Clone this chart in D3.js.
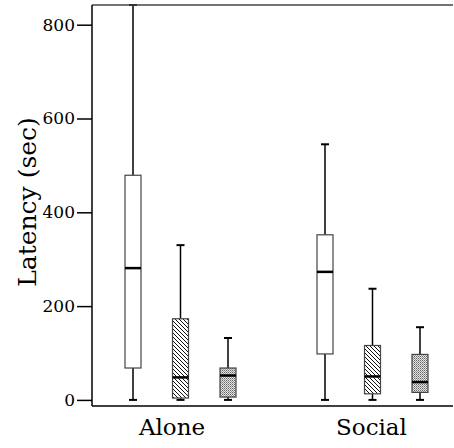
<!DOCTYPE html>
<html>
<head>
<meta charset="utf-8">
<script src="https://cdn.jsdelivr.net/npm/d3@7"></script>
<style>
  body { margin: 0; background: #fff; }
</style>
</head>
<body>
<svg id="chart" width="454" height="448"></svg>
<script>
// categories and series
const groups = ["Alone", "Social"];
const series = ["plain", "hatched", "dotted"];

// box stats per group, in series order (sec)
const mins    = [[0, 0, 0],       [0, 0, 0]];
const q1s     = [[68, 4, 6],      [98, 13, 16]];
const medians = [[281, 48, 52],   [273, 50, 38]];
const q3s     = [[479, 173, 68],  [352, 116, 97]];
const maxs    = [[842, 330, 132], [545, 237, 155]];

const yTicks = [0, 200, 400, 600, 800];

const serif = "DejaVu Serif";

const svg = d3.select("#chart");
const plotLeft = 92, plotRight = 453, plotTop = 5, plotBottom = 406;

const y = d3.scaleLinear().domain([-13, 842]).range([plotBottom, plotTop]);

const x = d3.scalePoint().domain(groups).range([180.5, 372.5]);
const xs = d3.scalePoint().domain(series).range([-47.5, 47.5]);
// category label positions along the bottom
const xLabel = d3.scalePoint().domain(groups).range([172, 371.5]);

const boxW = 16, capW = 8;

// fill patterns
const defs = svg.append("defs");
const hatch = defs.append("pattern")
  .attr("id", "hatch")
  .attr("patternUnits", "userSpaceOnUse")
  .attr("width", 4).attr("height", 4);
hatch.append("rect").attr("width", 4).attr("height", 4).attr("fill", "#fff");
hatch.append("path")
  .attr("d", "M-1,-1 L5,5 M-1,3 L1,5 M3,-1 L5,1")
  .attr("stroke", "#111").attr("stroke-width", 1);

const dots = defs.append("pattern")
  .attr("id", "dots")
  .attr("patternUnits", "userSpaceOnUse")
  .attr("width", 2).attr("height", 2);
dots.append("rect").attr("width", 2).attr("height", 2).attr("fill", "#e4e4e4");
dots.append("rect").attr("width", 1).attr("height", 1).attr("fill", "#666");
dots.append("rect").attr("x", 1).attr("y", 1).attr("width", 1).attr("height", 1).attr("fill", "#999");

const fills = { plain: "#fff", hatched: "url(#hatch)", dotted: "url(#dots)" };

// flatten
const boxes = [];
groups.forEach((g, gi) => {
  series.forEach((s, si) => {
    boxes.push({
      group: g, series: s,
      min: mins[gi][si], q1: q1s[gi][si], median: medians[gi][si],
      q3: q3s[gi][si], max: maxs[gi][si]
    });
  });
});

const cx = d => x(d.group) + xs(d.series);

const box = svg.selectAll(".box")
  .data(boxes)
  .enter()
  .append("g")
  .attr("class", "box");

// whiskers
box.append("line")
  .attr("x1", cx).attr("x2", cx)
  .attr("y1", d => y(d.max)).attr("y2", d => y(d.q3))
  .attr("stroke", "#000").attr("stroke-width", 1.5);
box.append("line")
  .attr("x1", cx).attr("x2", cx)
  .attr("y1", d => y(d.q1)).attr("y2", d => y(d.min))
  .attr("stroke", "#000").attr("stroke-width", 1.5);

// caps
box.append("line")
  .attr("x1", d => cx(d) - capW / 2).attr("x2", d => cx(d) + capW / 2)
  .attr("y1", d => y(d.max)).attr("y2", d => y(d.max))
  .attr("stroke", "#000").attr("stroke-width", 2);
box.append("line")
  .attr("x1", d => cx(d) - capW / 2).attr("x2", d => cx(d) + capW / 2)
  .attr("y1", d => y(d.min)).attr("y2", d => y(d.min))
  .attr("stroke", "#000").attr("stroke-width", 2);

// boxes
box.append("rect")
  .attr("x", d => cx(d) - boxW / 2)
  .attr("y", d => y(d.q3))
  .attr("width", boxW)
  .attr("height", d => y(d.q1) - y(d.q3))
  .attr("fill", d => fills[d.series])
  .attr("stroke", "#444").attr("stroke-width", 1.2);

// medians
box.append("line")
  .attr("x1", d => cx(d) - boxW / 2).attr("x2", d => cx(d) + boxW / 2)
  .attr("y1", d => y(d.median)).attr("y2", d => y(d.median))
  .attr("stroke", "#000").attr("stroke-width", 2.5);

// frame
svg.append("line")
  .attr("x1", plotLeft).attr("x2", plotRight).attr("y1", plotTop).attr("y2", plotTop)
  .attr("stroke", "#444").attr("stroke-width", 1.5);
svg.append("line")
  .attr("x1", plotLeft).attr("x2", plotRight).attr("y1", plotBottom).attr("y2", plotBottom)
  .attr("stroke", "#000").attr("stroke-width", 1.5);

// y axis
const yAxis = d3.axisLeft(y).tickValues(yTicks).tickSize(15).tickPadding(2);
const yg = svg.append("g")
  .attr("transform", `translate(${plotLeft},0)`)
  .call(yAxis)
  .attr("font-family", serif)
  .attr("font-size", 17);
yg.select(".domain").attr("stroke", "#000").attr("stroke-width", 1.5)
  .attr("d", `M0,${plotTop}V${plotBottom}`);
yg.selectAll(".tick line").attr("stroke", "#000").attr("stroke-width", 1.5);
yg.selectAll(".tick text").attr("fill", "#000");

// x labels
svg.selectAll(".xlabel")
  .data(groups)
  .enter()
  .append("text")
  .attr("class", "xlabel")
  .attr("x", g => xLabel(g))
  .attr("y", 435)
  .attr("text-anchor", "middle")
  .attr("font-family", serif)
  .attr("font-size", 23)
  .text(g => g);

// y title
svg.append("text")
  .attr("transform", "translate(36,202) rotate(-90)")
  .attr("text-anchor", "middle")
  .attr("font-family", serif)
  .attr("font-size", 25)
  .text("Latency (sec)");
</script>
</body>
</html>
